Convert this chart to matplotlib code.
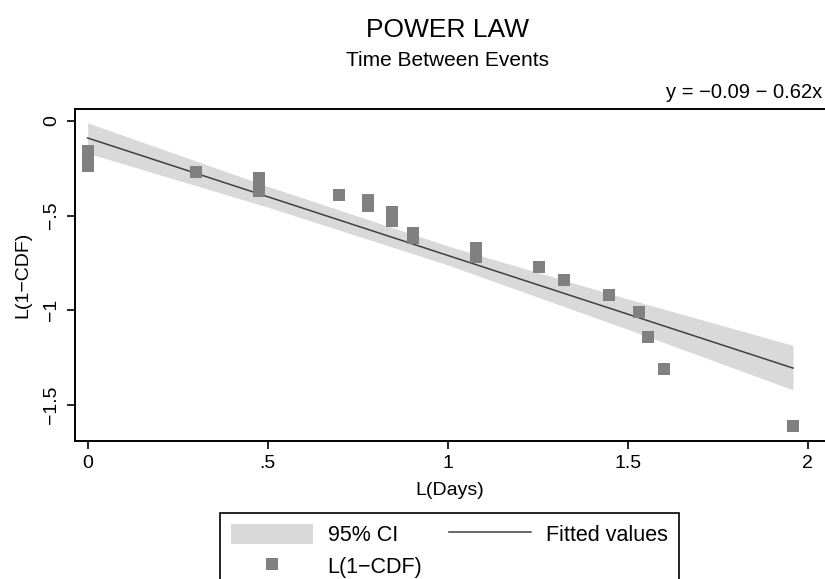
import numpy as np
import matplotlib
matplotlib.use('Agg')
import matplotlib.pyplot as plt
from matplotlib.patches import Patch
from matplotlib.lines import Line2D

plt.rcParams['font.family'] = ['Liberation Sans', 'DejaVu Sans']

# puntos observados: log10(dias) y log10(1-CDF)
log_days = [0, 0, 0, 0.301, 0.477, 0.477, 0.477, 0.699, 0.778, 0.778,
            0.845, 0.845, 0.845, 0.903, 0.903, 1.079, 1.079, 1.079,
            1.255, 1.322, 1.447, 1.531, 1.556, 1.602, 1.959]
log_surv = [-0.16, -0.20, -0.24, -0.27, -0.30, -0.33, -0.37, -0.39, -0.42, -0.45,
            -0.48, -0.51, -0.53, -0.59, -0.62, -0.67, -0.70, -0.72,
            -0.77, -0.84, -0.92, -1.01, -1.14, -1.31, -1.61]

# recta ajustada y banda del 95%
fit_x = [0, 0.5, 1.0, 1.5, 1.959]
fit_y = [-0.09, -0.40, -0.71, -1.02, -1.305]
ci_upper = [-0.01, -0.345, -0.66, -0.94, -1.185]
ci_lower = [-0.17, -0.455, -0.76, -1.10, -1.42]

xticks = [0, 0.5, 1, 1.5, 2]
xtick_labels = ['0', '.5', '1', '1.5', '2']
yticks = [0, -0.5, -1, -1.5]
ytick_labels = ['0', '\u2212.5', '\u22121', '\u22121.5']

fig = plt.figure(figsize=(8.25, 5.79), dpi=100)
ax = fig.add_axes([75 / 825, 1 - 441 / 579, 750 / 825, 332 / 579])

ax.fill_between(fit_x, ci_lower, ci_upper, color='#d9d9d9', linewidth=0)
ax.plot(fit_x, fit_y, color='#404040', linewidth=1.1)
ax.plot(log_days, log_surv, linestyle='none', marker='s', markersize=9,
        color='#808080', markeredgewidth=0)

ax.set_xlim(-0.035, 2.048)
ax.set_ylim(-1.69, 0.063)
ax.set_xticks(xticks)
ax.set_xticklabels(xtick_labels, fontsize=14)
ax.set_yticks(yticks)
ax.set_yticklabels(ytick_labels, fontsize=14, rotation=90, va='center')
ax.tick_params(direction='out', length=5.5, width=1.2, color='black')
ax.tick_params(axis='x', pad=4.5)
ax.tick_params(axis='y', pad=5)
for s in ['left', 'top', 'bottom']:
    ax.spines[s].set_linewidth(1.4)
ax.spines['right'].set_visible(False)

ax.set_xlabel('L(Days)', fontsize=14, labelpad=7)
ax.set_ylabel('L(1\u2212CDF)', fontsize=14, labelpad=9)

fig.text(447 / 825, 1 - 30 / 579, 'POWER LAW', ha='center', va='center', fontsize=19)
fig.text(447 / 825, 1 - 60 / 579, 'Time Between Events', ha='center', va='center', fontsize=15)
fig.text(822 / 825, 1 - 92 / 579, 'y = \u22120.09 \u2212 0.62x', ha='right', va='center', fontsize=14.5)

handles = [Patch(facecolor='#d9d9d9', edgecolor='none'),
           Line2D([], [], linestyle='none', marker='s', markersize=8, color='#808080', markeredgewidth=0),
           Line2D([], [], color='#404040', linewidth=1.1)]
labels = ['95% CI', 'L(1\u2212CDF)', 'Fitted values']
leg = fig.legend(handles, labels, ncol=2, loc='upper left',
                 bbox_to_anchor=(220 / 825, 1 - 513 / 579), fontsize=15.5,
                 fancybox=False, edgecolor='black', framealpha=1,
                 handlelength=3.8, handleheight=1.05, handletextpad=0.7,
                 columnspacing=1.25, labelspacing=0.45, borderpad=0.5,
                 borderaxespad=0)
leg.get_frame().set_linewidth(1.2)

fig.savefig('out.png', dpi=100)
